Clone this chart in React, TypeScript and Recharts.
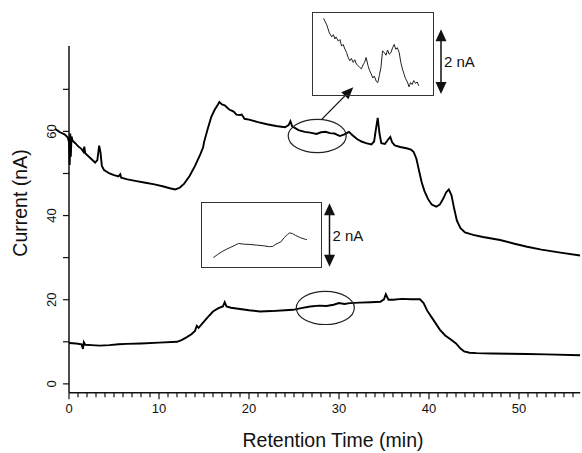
import React from 'react';
import { LineChart, Line, XAxis, YAxis, ReferenceLine, ReferenceDot } from 'recharts';

// upper chromatogram (min, nA)
const upperTime = [
  -1.55, -1.0, -0.5, -0.15, 0.0, 0.08, 0.14, 0.2, 0.28, 0.4, 0.7, 1.0, 1.4, 1.6, 1.7, 1.8, 2.3, 2.9, 3.15,
  3.35, 3.5, 3.65, 3.9, 4.5, 5.0, 5.5, 5.7, 5.8, 6.5, 7.5, 8.5, 9.5, 10.5, 11.2, 11.8, 12.3, 12.8, 13.4,
  14.0, 14.6, 14.9, 15.0, 15.4, 15.8, 16.2, 16.5, 16.7, 17.0, 17.3, 17.8, 18.3, 18.6, 19.0, 19.2, 19.5,
  20.0, 21.0, 22.0, 23.0, 24.0, 24.4, 24.6, 24.8, 25.5, 26.2, 26.8, 27.5, 28.0, 28.5, 29.0, 29.5, 30.1,
  30.6, 31.1, 31.5, 32.0, 32.5, 33.0, 33.6, 33.9, 34.1, 34.3, 34.5, 34.7, 35.1, 35.5, 35.7, 35.9, 36.2,
  36.8, 37.5, 38.0, 38.3, 38.6, 38.9, 39.2, 39.5, 39.9, 40.3, 40.8, 41.2, 41.6, 41.9, 42.2, 42.5, 42.8,
  43.1, 43.5, 44.0, 44.9, 46.0, 47.9, 49.5, 50.9, 52.5, 54.6, 56.8,
];
const upperCurrent = [
  60.6, 59.8, 59.3, 58.6, 57.5, 52, 59.5, 54, 58.8, 57.8, 57.2, 56.5, 55.8, 55.2, 56.4, 54.8, 53.8, 52.6, 53.2,
  56.6, 55, 51.8, 50.8, 50.0, 49.6, 49.3, 49.8, 49.0, 48.6, 48.2, 47.8, 47.4, 46.9, 46.5, 46.2, 46.6, 47.6, 49.4,
  51.8, 54.6, 56.2, 57.4, 60.5, 63.4, 65.2, 66.2, 67.0, 66.4, 66.2, 65.2, 64.7, 64.0, 63.9, 64.0, 63.0,
  62.8, 62.2, 61.7, 61.3, 61.0, 61.5, 62.4, 61.2, 60.3, 59.9, 59.7, 59.4, 59.8, 59.9, 59.6, 59.5, 58.9,
  59.3, 59.9, 59.1, 58.2, 57.6, 57.2, 56.9, 57.6, 60.5, 63.2, 59.5, 57.2, 57.0, 58.2, 58.7, 57.4, 56.7,
  56.3, 56.0, 55.7, 55.1, 53.5, 50.6, 47.8, 45.8, 43.9, 42.6, 42.1, 42.6, 44.1, 45.5, 46.2, 44.8, 41.6,
  38.8, 37.0, 36.0, 35.4, 34.9, 34.2, 33.3, 32.6, 31.9, 31.2, 30.5,
];

// lower chromatogram (min, nA)
const lowerTime = [
  0, 0.8, 1.4, 1.55, 1.65, 1.8, 2.5, 3.4, 4.5, 5.5, 6.4, 8, 10, 12, 12.5, 13.0, 13.6, 14.0, 14.2, 14.4,
  14.8, 15.4, 16.0, 16.6, 17.1, 17.3, 17.5, 18.0, 19.0, 20.0, 21.2, 22.5, 24.0, 24.9, 25.8, 26.8, 27.8,
  28.6, 29.4, 30.0, 30.6, 31.2, 32.3, 33.5, 34.6, 35.0, 35.2, 35.5, 36.0, 37.0, 38.0, 39.0, 39.4, 39.8,
  40.3, 40.8, 41.2, 41.8, 42.5, 43.0, 43.5, 43.9, 44.5, 45.3, 47, 50.9, 53, 56.8,
];
const lowerCurrent = [
  9.7, 9.6, 9.4, 8.3, 9.9, 9.3, 9.2, 9.1, 9.2, 9.4, 9.5, 9.6, 9.8, 10.0, 10.4, 11.0, 11.8, 12.6, 13.8, 13.3,
  14.3, 15.8, 17.2, 18.0, 18.4, 19.4, 18.4, 18.1, 17.8, 17.5, 17.2, 17.3, 17.5, 17.6, 18.0, 18.4, 18.6,
  18.5, 18.8, 19.2, 19.0, 19.2, 19.3, 19.4, 19.5, 20.1, 21.3, 20.0, 20.0, 20.2, 20.1, 20.1, 19.2, 17.4,
  15.8, 14.2, 12.9, 11.5, 10.4, 9.6, 8.4, 7.7, 7.4, 7.3, 7.2, 7.1, 7.0, 6.8,
];

// zoomed insets (min, nA above inset floor)
const upperInsetTime = [
  26.40, 26.52, 26.62, 26.71, 26.77, 26.83, 26.87, 26.96, 27.02, 27.08, 27.14, 27.21, 27.27, 27.33, 27.39,
  27.45, 27.52, 27.58, 27.64, 27.70, 27.76, 27.83, 27.89, 27.95, 28.01, 28.08, 28.14, 28.20, 28.26, 28.32,
  28.39, 28.45, 28.51, 28.57, 28.63, 28.70, 28.76, 28.82, 28.88, 28.95, 29.01, 29.07, 29.13, 29.19, 29.26,
  29.32, 29.38, 29.44, 29.50, 29.57, 29.63, 29.69, 29.75, 29.81, 29.88, 29.94, 30.00,
];
const upperInsetCurrent = [
  2.456, 2.244, 1.980, 1.853, 1.927, 1.789, 1.853, 1.715, 1.768, 1.557, 1.609, 1.451, 1.345, 1.186, 1.080,
  1.154, 1.027, 1.112, 0.975, 0.922, 0.869, 0.816, 0.943, 1.027, 1.186, 0.922, 0.763, 0.657, 0.519, 0.583,
  0.414, 0.371, 0.604, 0.869, 1.398, 1.345, 1.260, 1.430, 1.292, 1.345, 1.504, 1.609, 1.451, 1.504, 1.345,
  1.027, 0.816, 0.657, 0.498, 0.393, 0.234, 0.371, 0.308, 0.435, 0.340, 0.393, 0.266,
];
const lowerInsetTime = [
  26.435, 26.584, 26.771, 26.957, 27.144, 27.268, 27.392, 27.578, 27.827, 28.076, 28.324, 28.573, 28.697,
  28.821, 29.008, 29.132, 29.257, 29.343, 29.443, 29.567, 29.753, 29.940, 30.002,
];
const lowerInsetCurrent = [
  0.277, 0.372, 0.478, 0.562, 0.636, 0.689, 0.742, 0.721, 0.710, 0.689, 0.668, 0.636, 0.647,
  0.721, 0.795, 0.933, 1.038, 1.091, 1.070, 1.007, 0.933, 0.880, 0.869,
];

const xTicks = Array.from({ length: 57 }, (_, i) => i);
const yTicks = [0, 10, 20, 30, 40, 50, 60, 70];
const yLabels = [0, 20, 40, 60];

const toPoints = (t: number[], v: number[]) => t.map((x, i) => ({ t: x, v: v[i] }));

const FONT = '"Liberation Sans", Arial, Helvetica, sans-serif';
const W = 582;
const H = 453;
const Y_AXIS_W = 54.6;
const RIGHT = 1.8;
const X_DOMAIN: [number, number] = [-1.6, 56.8];
const Y_DOMAIN: [number, number] = [-2.1, 80.3];
const plotW = W - Y_AXIS_W - RIGHT;
const zeroOffset = ((0 - X_DOMAIN[0]) / (X_DOMAIN[1] - X_DOMAIN[0])) * plotW;

const XTick = (props: any) => {
  const { x, y, payload } = props;
  const v = payload.value;
  const major = v % 10 === 0;
  return (
    <g>
      <line x1={x} x2={x} y1={y} y2={y + (major ? 6.5 : 4.5)} stroke="#111" strokeWidth={1.2} />
      {major && (
        <text x={x} y={y + 20} textAnchor="middle" fontSize={13} fontFamily={FONT} fill="#111">
          {v}
        </text>
      )}
    </g>
  );
};

const YTick = (props: any) => {
  const { x, y, payload } = props;
  const x0 = x + zeroOffset;
  const v = payload.value;
  return (
    <g>
      <line x1={x0 - 6} x2={x0} y1={y} y2={y} stroke="#111" strokeWidth={1.2} />
      {yLabels.includes(v) && (
        <text
          x={x0 - 13}
          y={y}
          transform={`rotate(-90, ${x0 - 13}, ${y})`}
          textAnchor="middle"
          fontSize={13}
          fontFamily={FONT}
          fill="#111"
        >
          {v}
        </text>
      )}
    </g>
  );
};

const Ellipse = (props: any) => (
  <ellipse cx={props.cx} cy={props.cy} rx={29} ry={16.6} fill="none" stroke="#222" strokeWidth={1.2} />
);

const Arrow = (props: any) => {
  const { x1, y1, x2, y2 } = props;
  const dx = x2 - x1;
  const dy = y2 - y1;
  const len = Math.sqrt(dx * dx + dy * dy);
  const ux = dx / len;
  const uy = dy / len;
  const hl = 12;
  const hw = 5;
  const bx = x2 - ux * hl;
  const by = y2 - uy * hl;
  return (
    <g>
      <line x1={x1} y1={y1} x2={bx} y2={by} stroke="#111" strokeWidth={1.3} />
      <polygon
        points={`${x2},${y2} ${bx - uy * hw},${by + ux * hw} ${bx + uy * hw},${by - ux * hw}`}
        fill="#111"
      />
    </g>
  );
};

const ScaleBar = ({ x, top, bottom }: { x: number; top: number; bottom: number }) => (
  <g>
    <line x1={x} x2={x} y1={top + 10} y2={bottom - 10} stroke="#111" strokeWidth={1.5} />
    <polygon points={`${x},${top} ${x - 5.5},${top + 12} ${x + 5.5},${top + 12}`} fill="#111" />
    <polygon points={`${x},${bottom} ${x - 5.5},${bottom - 12} ${x + 5.5},${bottom - 12}`} fill="#111" />
    <text x={x + 3} y={(top + bottom) / 2} dominantBaseline="central" fontSize={15} fontFamily={FONT} fill="#111">
      2 nA
    </text>
  </g>
);

const Inset = ({
  left, top, width, height, data, yMax,
}: { left: number; top: number; width: number; height: number; data: any[]; yMax: number }) => (
  <div
    style={{
      position: 'absolute', left, top, width, height, border: '1.5px solid #333',
      boxSizing: 'border-box', background: 'transparent',
    }}
  >
    <LineChart width={width - 3} height={height - 3} data={data} margin={{ top: 0, right: 0, bottom: 0, left: 0 }}>
      <XAxis type="number" dataKey="t" domain={[26, 30.5]} hide />
      <YAxis type="number" domain={[0, yMax]} hide />
      <Line dataKey="v" stroke="#222" strokeWidth={1} dot={false} type="linear" isAnimationActive={false} />
    </LineChart>
  </div>
);

export default function App() {
  const upper = toPoints(upperTime, upperCurrent);
  const lower = toPoints(lowerTime, lowerCurrent);
  return (
    <div style={{ position: 'absolute', left: 0, top: 0, width: W, height: H, background: '#fff' }}>
      <LineChart width={W} height={H} margin={{ top: 46, right: RIGHT, bottom: 30.3, left: 0 }}>
        <XAxis
          type="number"
          dataKey="t"
          domain={X_DOMAIN}
          allowDataOverflow
          ticks={xTicks}
          interval={0}
          tick={<XTick />}
          tickSize={0}
          tickMargin={0}
          axisLine={false}
          tickLine={false}
          height={30}
        />
        <YAxis
          type="number"
          domain={Y_DOMAIN}
          allowDataOverflow
          ticks={yTicks}
          interval={0}
          tick={<YTick />}
          tickSize={0}
          tickMargin={0}
          axisLine={false}
          tickLine={false}
          width={Y_AXIS_W}
        />
        <ReferenceLine x={0} stroke="#111" strokeWidth={1.5} />
        <ReferenceLine segment={[{ x: 0, y: Y_DOMAIN[0] }, { x: X_DOMAIN[1], y: Y_DOMAIN[0] }]} stroke="#111" strokeWidth={1.5} />
        <Line data={upper} dataKey="v" stroke="#000" strokeWidth={1.9} dot={false} type="linear" isAnimationActive={false} />
        <Line data={lower} dataKey="v" stroke="#000" strokeWidth={1.9} dot={false} type="linear" isAnimationActive={false} />
        <ReferenceDot x={27.58} y={58.9} shape={<Ellipse />} />
        <ReferenceDot x={28.48} y={18.05} shape={<Ellipse />} />
        <ReferenceLine segment={[{ x: 28.08, y: 62.87 }, { x: 31.59, y: 70.48 }]} shape={<Arrow />} />
      </LineChart>
      <Inset left={312} top={12} width={122} height={84} data={toPoints(upperInsetTime, upperInsetCurrent)} yMax={2.63} />
      <Inset left={201} top={202} width={121} height={66} data={toPoints(lowerInsetTime, lowerInsetCurrent)} yMax={2.076} />
      <svg width={W} height={H} style={{ position: 'absolute', left: 0, top: 0, pointerEvents: 'none' }}>
        <ScaleBar x={441} top={29.3} bottom={94} />
        <ScaleBar x={329.5} top={203.3} bottom={266.7} />
        <text
          x={20}
          y={203}
          transform="rotate(-90, 20, 203)"
          textAnchor="middle"
          dominantBaseline="central"
          fontSize={19.5}
          fontFamily={FONT}
          fill="#111"
        >
          Current (nA)
        </text>
        <text x={333} y={447} textAnchor="middle" fontSize={19.5} fontFamily={FONT} fill="#111">
          Retention Time (min)
        </text>
      </svg>
    </div>
  );
}
